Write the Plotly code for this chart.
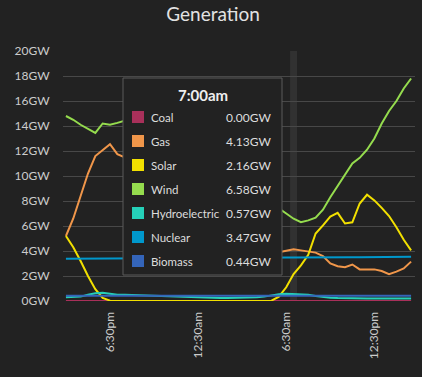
import datetime as dt
import plotly.graph_objects as go

# ---- data (half-hourly, 3:30pm -> 3:00pm next day) ----
start = dt.datetime(2023, 1, 1, 15, 30)
times = [start + dt.timedelta(minutes=30 * i) for i in range(48)]

coal = [0.0, 0.0, 0.0, 0.0, 0.0, 0.0, 0.0, 0.0, 0.0, 0.0, 0.0, 0.0,
        0.0, 0.0, 0.0, 0.0, 0.0, 0.0, 0.0, 0.0, 0.0, 0.0, 0.0, 0.0,
        0.0, 0.0, 0.0, 0.0, 0.0, 0.0, 0.0, 0.0, 0.0, 0.0, 0.0, 0.0,
        0.0, 0.0, 0.0, 0.0, 0.0, 0.0, 0.0, 0.0, 0.0, 0.0, 0.0, 0.0]
gas = [5.2, 6.6, 8.4, 10.2, 11.6, 12.1, 12.55, 11.75, 11.5,
       11.3, 11.0, 10.5, 10.0, 9.4, 8.8, 8.2, 7.6, 7.0, 6.5, 6.0, 5.6, 5.2,
       4.9, 4.6, 4.4, 4.2, 4.1, 4.0, 3.95, 3.9,
       4.0, 4.13, 4.05, 3.95, 3.87, 3.6, 3.0, 2.78, 2.7, 2.92, 2.53, 2.53,
       2.53, 2.4, 2.15, 2.35, 2.6, 3.15]
solar = [5.2, 4.3, 3.2, 2.0, 0.95, 0.25, 0.03,
         0.01, 0.01, 0.01, 0.01, 0.01, 0.01, 0.01, 0.01, 0.01, 0.01, 0.01,
         0.01, 0.01, 0.01, 0.01, 0.01, 0.01, 0.01, 0.01, 0.01, 0.01,
         0.03, 0.35, 1.1, 2.16, 2.85, 3.7, 5.4, 6.05, 6.75, 7.05, 6.2, 6.3,
         7.8, 8.5, 8.05, 7.45, 6.8, 5.9, 4.9, 4.05]
wind = [14.8, 14.5, 14.1, 13.75, 13.45, 14.2, 14.1, 14.25, 14.45,
        14.6, 14.7, 14.4, 13.9, 13.4, 12.9, 12.4, 11.9, 11.4, 10.9, 10.5,
        10.1, 9.7, 9.3, 8.9, 8.6, 8.3, 8.0, 7.8, 7.6,
        7.4, 7.0, 6.58, 6.3, 6.45, 6.67, 7.3, 8.3, 9.2, 10.2, 11.0, 11.45,
        12.1, 13.0, 14.2, 15.2, 16.0, 17.0, 17.8]
hydro = [0.3, 0.3, 0.35, 0.5, 0.62, 0.66, 0.55, 0.5, 0.5, 0.48,
         0.45, 0.42, 0.4, 0.38, 0.35, 0.33, 0.3, 0.3, 0.28, 0.27,
         0.26, 0.25, 0.25, 0.25, 0.26, 0.28, 0.3, 0.35, 0.45, 0.55,
         0.58, 0.57, 0.55, 0.5, 0.4, 0.32, 0.27, 0.24, 0.22, 0.2,
         0.2, 0.2, 0.2, 0.2, 0.2, 0.2, 0.2, 0.2]
nuclear = [3.38, 3.38, 3.39, 3.38, 3.37, 3.39, 3.40, 3.41, 3.42, 3.42,
           3.43, 3.43, 3.43, 3.44, 3.44, 3.44, 3.44, 3.45, 3.45, 3.45,
           3.45, 3.45, 3.46, 3.46, 3.46, 3.46, 3.46, 3.47, 3.47, 3.47,
           3.47, 3.47, 3.47, 3.47, 3.47, 3.48, 3.48, 3.49, 3.50, 3.50,
           3.51, 3.52, 3.52, 3.53, 3.53, 3.54, 3.55, 3.55]
biomass = [0.42, 0.42, 0.43, 0.44, 0.45, 0.45, 0.44, 0.44, 0.43, 0.43,
           0.43, 0.42, 0.42, 0.42, 0.41, 0.41, 0.41, 0.41, 0.40, 0.40,
           0.40, 0.40, 0.41, 0.41, 0.41, 0.42, 0.42, 0.43, 0.43, 0.44,
           0.44, 0.44, 0.44, 0.43, 0.43, 0.42, 0.42, 0.41, 0.40, 0.40,
           0.40, 0.40, 0.41, 0.41, 0.42, 0.42, 0.42, 0.42]

series_names = ["Coal", "Gas", "Solar", "Wind", "Hydroelectric", "Nuclear", "Biomass"]
series_values = [coal, gas, solar, wind, hydro, nuclear, biomass]
series_colors = ["#a8305a", "#f0964a", "#f2e000", "#95dc4e", "#25d0b8", "#0098cc", "#3465ba"]

tick_vals = [dt.datetime(2023, 1, 1, 18, 30), dt.datetime(2023, 1, 2, 0, 30),
             dt.datetime(2023, 1, 2, 6, 30), dt.datetime(2023, 1, 2, 12, 30)]
tick_text = ["6:30pm", "12:30am", "6:30am", "12:30pm"]
y_tick_vals = [0, 2, 4, 6, 8, 10, 12, 14, 16, 18, 20]
y_tick_text = ["%dGW" % v for v in y_tick_vals]

hover_index = 31  # 7:00am

BG = "#222222"
FONT = "Lato"

fig = go.Figure()
for name, vals, col in zip(series_names, series_values, series_colors):
    fig.add_trace(go.Scatter(x=times, y=vals, mode="lines", name=name,
                             line=dict(color=col, width=2), hoverinfo="skip"))

# hover highlight band
ht = times[hover_index]
fig.add_shape(type="rect", xref="x", yref="paper",
              x0=ht - dt.timedelta(minutes=14), x1=ht + dt.timedelta(minutes=14),
              y0=0, y1=1, fillcolor="rgba(255,255,255,0.07)", line_width=0,
              layer="below")

# plot area geometry in pixels (for tooltip overlay)
L, R, T, B = 63, 415, 51, 301
def px(x):
    return (x - L) / (R - L)
def py(y):
    return (B - y) / (B - T)

fig.add_shape(type="rect", xref="paper", yref="paper",
              x0=px(123), x1=px(282), y0=py(275), y1=py(78),
              fillcolor=BG, line=dict(color="#5a5a5a", width=1), layer="above")

h = ht.hour % 12 or 12
label = "%d:%02d%s" % (h, ht.minute, "am" if ht.hour < 12 else "pm")
fig.add_annotation(xref="paper", yref="paper", x=px(203), y=py(95),
                   text="<b>%s</b>" % label, showarrow=False,
                   font=dict(family=FONT, size=15, color="#eeeeee"),
                   xanchor="center", yanchor="middle")
for k, (name, vals, col) in enumerate(zip(series_names, series_values, series_colors)):
    yy = 117 + 24 * k
    fig.add_shape(type="rect", xref="paper", yref="paper",
                  x0=px(132), x1=px(144), y0=py(yy + 6), y1=py(yy - 6),
                  fillcolor=col, line_width=0, layer="above")
    fig.add_annotation(xref="paper", yref="paper", x=px(149), y=py(yy),
                       text=name, showarrow=False, xanchor="left", yanchor="middle",
                       font=dict(family=FONT, size=11.5, color="#dddddd"))
    fig.add_annotation(xref="paper", yref="paper", x=px(273), y=py(yy),
                       text="%.2fGW" % vals[hover_index], showarrow=False,
                       xanchor="right", yanchor="middle",
                       font=dict(family=FONT, size=12, color="#dddddd"))

fig.update_layout(
    width=422, height=377,
    paper_bgcolor=BG, plot_bgcolor=BG,
    margin=dict(l=L, r=422 - R, t=T, b=377 - B, autoexpand=False),
    showlegend=False, hovermode=False,
    font=dict(family=FONT, color="#cccccc", size=12),
    title=dict(text="Generation", x=0.505, xanchor="center", y=1 - 14 / 377,
               yanchor="middle", yref="container",
               font=dict(family=FONT, size=19, color="#e2e2e2")),
)
fig.update_xaxes(
    range=[start - dt.timedelta(minutes=12), times[-1] + dt.timedelta(minutes=16)],
    tickvals=tick_vals, ticktext=tick_text, tickangle=-90,
    showgrid=False, zeroline=False, showline=False,
    ticks="outside", ticklen=5, tickcolor=BG,
    tickfont=dict(family=FONT, size=12, color="#cccccc"),
)
fig.update_yaxes(
    range=[0, 20], tickvals=y_tick_vals, ticktext=y_tick_text,
    showgrid=True, gridcolor="#484848", gridwidth=1,
    zeroline=False, showline=False,
    ticks="outside", ticklen=10, tickcolor=BG,
    tickfont=dict(family=FONT, size=12, color="#cccccc"),
)

fig.write_html(
    "out.html",
    config={"displayModeBar": False, "staticPlot": True},
    post_script="document.body.style.margin='0';document.body.style.padding='0';"
                "document.body.style.background='#222222';",
)
